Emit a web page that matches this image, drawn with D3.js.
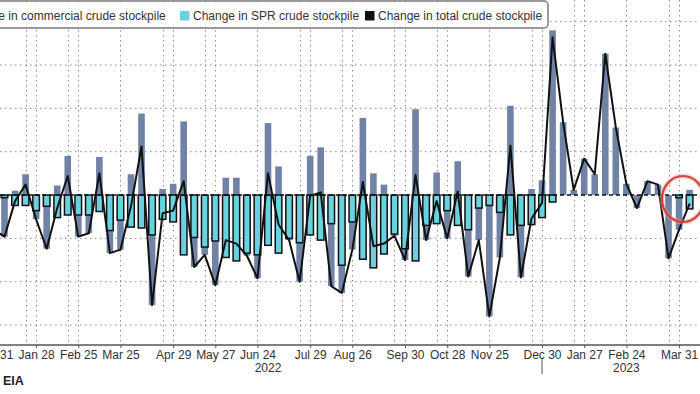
<!DOCTYPE html>
<html>
<head>
<meta charset="utf-8">
<script src="https://cdn.jsdelivr.net/npm/d3@7"></script>
<style>
  body { margin: 0; background: #fff; }
  svg { display: block; font-family: "Liberation Sans", Arial, sans-serif; }
</style>
</head>
<body>
<svg id="chart" width="700" height="394"></svg>
<script>
// weekly EIA stock changes, million barrels (week ending Friday)
var weeks = ["2021-12-31","2022-01-07","2022-01-14","2022-01-21","2022-01-28","2022-02-04","2022-02-11","2022-02-18","2022-02-25",
  "2022-03-04","2022-03-11","2022-03-18","2022-03-25","2022-04-01","2022-04-08","2022-04-15","2022-04-22","2022-04-29",
  "2022-05-06","2022-05-13","2022-05-20","2022-05-27","2022-06-03","2022-06-10","2022-06-17","2022-06-24","2022-07-01",
  "2022-07-08","2022-07-15","2022-07-22","2022-07-29","2022-08-05","2022-08-12","2022-08-19","2022-08-26","2022-09-02",
  "2022-09-09","2022-09-16","2022-09-23","2022-09-30","2022-10-07","2022-10-14","2022-10-21","2022-10-28","2022-11-04",
  "2022-11-11","2022-11-18","2022-11-25","2022-12-02","2022-12-09","2022-12-16","2022-12-23","2022-12-30","2023-01-06",
  "2023-01-13","2023-01-20","2023-01-27","2023-02-03","2023-02-10","2023-02-17","2023-02-24","2023-03-03","2023-03-10",
  "2023-03-17","2023-03-24","2023-03-31","2023-04-07"];

var commercial = [-3.6, -4.5, 0.5, 2.4, -1.0, -4.9, 1.1, 4.5, -2.5, -2.1, 4.4, -2.6, -3.4, 2.4, 9.4, -8.1, 0.7, 1.3,
  8.5, -3.4, -0.9, -5.1, 2.0, 2.0, -0.3, -2.7, 8.3, 3.3, -0.2, -4.5, 4.5, 5.5, -7.2, -3.2, -3.2, 8.9, 2.5, 1.2, -0.2,
  -1.3, 9.9, -1.7, 2.6, -3.2, 3.9, -5.4, -3.7, -12.8, -5.2, 10.3, -6.0, 0.7, 1.7, 19.0, 8.4, 0.6, 4.2, 2.4, 16.3,
  7.8, 1.3, -1.5, 1.6, 1.2, -7.3, -3.7, 0.6];

var spr = [-0.4, -0.3, -1.2, -1.2, -1.8, -1.3, -2.6, -2.3, -2.3, -2.3, -1.9, -4.1, -2.9, -3.7, -3.8, -4.6, -2.8, -3.1,
  -6.9, -4.9, -6.0, -5.3, -7.2, -7.6, -6.7, -6.9, -5.8, -6.7, -5.0, -5.5, -4.6, -5.2, -3.3, -8.1, -3.1, -7.4, -8.4,
  -6.8, -4.5, -6.2, -7.6, -3.5, -3.3, -1.8, -3.5, -4.0, -1.5, -1.2, -2.0, -4.6, -3.5, -3.4, -2.6, -0.8, 0, 0, 0, 0,
  0, 0, 0, 0, 0, 0, 0, -0.3, -1.6];

var total = [-4.0, -4.8, -0.7, 1.2, -2.8, -6.2, -1.5, 2.2, -4.8, -4.4, 2.5, -6.7, -6.3, -1.3, 5.6, -12.7, -2.1, -1.8,
  1.6, -8.3, -6.9, -10.4, -5.2, -5.6, -7.0, -9.6, 2.5, -3.4, -5.2, -10.0, -0.1, 0.3, -10.5, -11.3, -6.3, 1.5, -5.9,
  -5.6, -4.7, -7.5, 2.3, -5.2, -0.7, -5.0, 0.4, -9.4, -5.2, -14.0, -7.2, 5.7, -9.5, -2.7, -0.9, 18.2, 8.4, 0.6, 4.2,
  2.4, 16.3, 7.8, 1.3, -1.5, 1.6, 1.2, -7.3, -4.0, -1.0];

// x axis labels (last Friday of each month) and extra grid lines
var labelDates = ["2021-12-31","2022-01-28","2022-02-25","2022-03-25","2022-04-29","2022-05-27","2022-06-24","2022-07-29",
  "2022-08-26","2022-09-30","2022-10-28","2022-11-25","2022-12-30","2023-01-27","2023-02-24","2023-03-31"];
var extraGrid = ["2022-01-21","2022-02-18","2022-04-22","2022-05-20","2022-07-22","2022-08-19","2022-09-23","2022-10-21",
  "2022-12-23","2023-01-20","2023-03-24"];
var yGrid = [-15, -10, -5, 5, 10, 15, 20];
var years = [{label: "2022", date: "2022-07-01"}, {label: "2023", date: "2023-02-24"}];
var yearBreak = "2022-12-30";

var legendItems = [
  {name: "Change in commercial crude stockpile", color: "#7083a7"},
  {name: "Change in SPR crude stockpile", color: "#69d2e0"},
  {name: "Change in total crude stockpile", color: "#111"}
];

var parse = d3.utcParse("%Y-%m-%d");
var rows = weeks.map(function(w, i) {
  return {date: parse(w), spr: spr[i], commercial: commercial[i], total: total[i]};
});

var svg = d3.select("#chart");
var W = 700, axisY = 345;

var x = d3.scaleUtc()
  .domain([parse("2022-01-07"), parse("2023-04-07")])
  .range([4.5, 689.6]);
var y = d3.scaleLinear().domain([-17.3, 22.5]).range([axisY, 0]);

// grid
var grid = svg.append("g");
grid.selectAll("line.h").data(yGrid).join("line")
  .attr("x1", 0).attr("x2", W)
  .attr("y1", function(d) { return y(d); }).attr("y2", function(d) { return y(d); })
  .attr("stroke", "#8a8a8a").attr("stroke-width", 1).attr("stroke-dasharray", "1.5,3.5");
grid.selectAll("line.v").data(labelDates.slice(1).concat(extraGrid)).join("line")
  .attr("x1", function(d) { return Math.round(x(parse(d))) + 0.5; })
  .attr("x2", function(d) { return Math.round(x(parse(d))) + 0.5; })
  .attr("y1", 0).attr("y2", axisY)
  .attr("stroke", "#8a8a8a").attr("stroke-width", 1).attr("stroke-dasharray", "1.5,3.5");

// stacked bars: SPR first from zero, commercial stacked on top of it
var stacked = d3.stack().keys(["spr", "commercial"]).offset(d3.stackOffsetDiverging)(rows);
var bw = 6.6;

svg.append("g").selectAll("rect").data(stacked[1]).join("rect")
  .attr("x", function(d) { return x(d.data.date) - bw / 2; })
  .attr("width", bw)
  .attr("y", function(d) { return y(Math.max(d[0], d[1])); })
  .attr("height", function(d) { return Math.abs(y(d[0]) - y(d[1])); })
  .attr("fill", legendItems[0].color);

svg.append("g").selectAll("rect").data(stacked[0].filter(function(d) { return d[1] !== d[0]; })).join("rect")
  .attr("x", function(d) { return x(d.data.date) - bw / 2; })
  .attr("width", bw)
  .attr("y", function(d) { return y(Math.max(d[0], d[1])); })
  .attr("height", function(d) { return Math.abs(y(d[0]) - y(d[1])); })
  .attr("fill", legendItems[1].color)
  .attr("stroke", "#111").attr("stroke-width", 1.5);

// zero line
svg.append("line")
  .attr("x1", 0).attr("x2", W).attr("y1", y(0)).attr("y2", y(0))
  .attr("stroke", "#111").attr("stroke-width", 1.4).attr("stroke-dasharray", "4,3");

// total line
var line = d3.line()
  .x(function(d) { return x(d.date); })
  .y(function(d) { return y(d.total); });
svg.append("path").datum(rows)
  .attr("d", line)
  .attr("fill", "none").attr("stroke", "#111").attr("stroke-width", 2)
  .attr("stroke-linejoin", "round");

// x axis
svg.append("line").attr("x1", 0).attr("x2", W).attr("y1", axisY).attr("y2", axisY)
  .attr("stroke", "#555").attr("stroke-width", 1.3);

var xAxis = d3.axisBottom(x)
  .tickValues(labelDates.map(parse))
  .tickFormat(d3.utcFormat("%b %-d"))
  .tickSize(3)
  .tickPadding(2);
var gx = svg.append("g").attr("transform", "translate(0," + axisY + ")").call(xAxis);
gx.select(".domain").remove();
gx.selectAll(".tick line").attr("stroke", "#555");
gx.selectAll(".tick text")
  .attr("fill", "#333").attr("font-size", 12)
  .attr("font-family", "'Liberation Sans', Arial, sans-serif");

svg.append("g").selectAll("text").data(years).join("text")
  .attr("x", function(d) { return x(parse(d.date)); })
  .attr("y", 372)
  .attr("text-anchor", "middle")
  .attr("font-size", 12).attr("fill", "#333")
  .text(function(d) { return d.label; });

svg.append("line")
  .attr("x1", x(parse(yearBreak))).attr("x2", x(parse(yearBreak)))
  .attr("y1", 359).attr("y2", 374)
  .attr("stroke", "#555").attr("stroke-width", 1);

// source
svg.append("text").attr("x", 3).attr("y", 385)
  .attr("font-size", 12.5).attr("font-weight", "bold").attr("fill", "#222")
  .text("EIA");

// highlight circle
svg.append("ellipse")
  .attr("cx", 683).attr("cy", 199).attr("rx", 21).attr("ry", 23)
  .attr("fill", "none").attr("stroke", "#e8a0a0").attr("stroke-width", 5).attr("opacity", 0.45);
svg.append("ellipse")
  .attr("cx", 683).attr("cy", 199).attr("rx", 21).attr("ry", 23)
  .attr("fill", "none").attr("stroke", "#d8403a").attr("stroke-width", 2.2);

// legend
var lg = svg.append("g");
lg.append("rect")
  .attr("x", -60).attr("y", 1).attr("width", 608).attr("height", 27).attr("rx", 4)
  .attr("fill", "#fff").attr("stroke", "#7a7a7a").attr("stroke-width", 1.5);
var legendX = [-50, 180, 365];
legendItems.forEach(function(item, i) {
  lg.append("rect").attr("x", legendX[i]).attr("y", 11).attr("width", 9.5).attr("height", 9.5)
    .attr("fill", item.color);
  lg.append("text").attr("x", legendX[i] + 13).attr("y", 20)
    .attr("font-size", 12).attr("fill", "#333")
    .text(item.name);
});
</script>
</body>
</html>
